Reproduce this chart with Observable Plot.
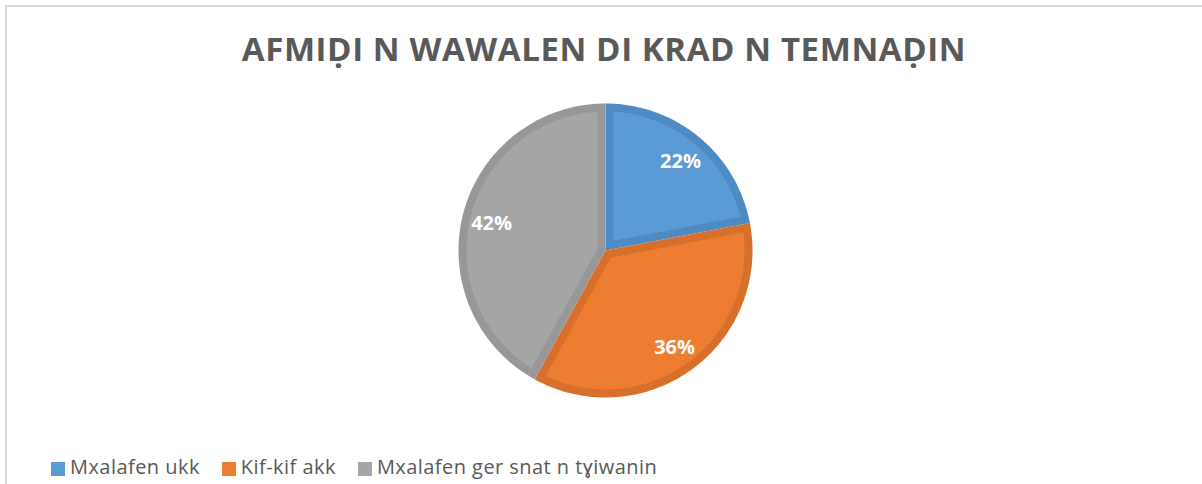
<!DOCTYPE html>
<html>
<head>
<meta charset="utf-8">
<script src="https://cdn.jsdelivr.net/npm/d3@7"></script>
<script src="https://cdn.jsdelivr.net/npm/@observablehq/plot@0.6"></script>
<style>
  html, body { margin: 0; padding: 0; background: #fff; }
  #wrap { position: relative; width: 1202px; height: 484px; overflow: hidden; background: #fff; }
  #frame { position: absolute; left: 5px; top: 5px; width: 1200px; height: 482px;
           border-top: 2px solid #d9d9d9; border-left: 2px solid #d9d9d9; box-sizing: border-box; }
  #title { position: absolute; left: 0; top: 26px; width: 1208px; text-align: center;
           font-family: "Open Sans", sans-serif; font-weight: 700; font-size: 33px;
           color: #595959; letter-spacing: 0.6px; white-space: nowrap; }
  #plot { position: absolute; left: 0; top: 0; }
  #legend { position: absolute; left: 51px; top: 453px; display: flex; align-items: flex-start;
            font-family: "Open Sans", sans-serif; line-height: 27px;
            font-size: 20px; letter-spacing: 0.45px; color: #595959; white-space: nowrap; }
  .item { display: flex; align-items: flex-start; margin-right: 22px; }
  .sw { width: 14px; height: 14px; margin-right: 5px; margin-top: 9px; }
</style>
</head>
<body>
<div id="wrap">
  <div id="frame"></div>
  <div id="title"></div>
  <div id="plot"></div>
  <div id="legend"></div>
</div>
<script>
const title = "AFMIḌI N WAWALEN DI KRAD N TEMNAḌIN";
const categories = ["Mxalafen ukk", "Kif-kif akk", "Mxalafen ger snat n tɣiwanin"];
const values = [22, 36, 42];
const fillColors = ["#5b9bd5", "#ed7d31", "#a5a5a5"];
const edgeColors = ["#4f8bc3", "#d8702b", "#979797"];

document.getElementById("title").textContent = title;

// pie geometry in data units (radius 1)
const R = 147;              // pixel radius used for the scale ranges
const band = 8 / R;         // border band width in data units
const arcs = d3.pie().sort(null).value(d => d)(values);
const outerPts = [], innerPts = [], labels = [];
arcs.forEach((a, i) => {
  const key = categories[i];
  const a0 = a.startAngle, a1 = a.endAngle, span = a1 - a0;
  const steps = 120;
  outerPts.push({key, x: 0, y: 0});
  for (let k = 0; k <= steps; k++) {
    const t = a0 + span * k / steps;
    outerPts.push({key, x: Math.sin(t), y: Math.cos(t)});
  }
  outerPts.push({key, x: 0, y: 0});
  // inset polygon
  const mid = (a0 + a1) / 2;
  const apex = band / Math.sin(span / 2);
  const ri = 1 - band;
  const delta = Math.asin(band / ri);
  innerPts.push({key, x: apex * Math.sin(mid), y: apex * Math.cos(mid)});
  for (let k = 0; k <= steps; k++) {
    const t = a0 + delta + (span - 2 * delta) * k / steps;
    innerPts.push({key, x: ri * Math.sin(t), y: ri * Math.cos(t)});
  }
  innerPts.push({key, x: apex * Math.sin(mid), y: apex * Math.cos(mid)});
  labels.push({key, x: 0.8 * Math.sin(mid), y: 0.8 * Math.cos(mid), text: values[i] + "%"});
});

const cx = 605, cy = 250;
const marks = [];
categories.forEach((c, i) => {
  marks.push(Plot.line(outerPts.filter(d => d.key === c), {x: "x", y: "y", fill: edgeColors[i], stroke: "none", curve: "linear"}));
  marks.push(Plot.line(innerPts.filter(d => d.key === c), {x: "x", y: "y", fill: fillColors[i], stroke: "none", curve: "linear"}));
});
marks.push(Plot.text(labels, {x: "x", y: "y", text: "text", fill: "white", fontSize: 20, fontWeight: "bold",
  fontFamily: "Open Sans, sans-serif", dy: 2}));

const chart = Plot.plot({
  width: 1202,
  height: 484,
  margin: 0,
  style: {background: "transparent", overflow: "visible"},
  x: {domain: [-1, 1], range: [cx - R, cx + R], axis: null},
  y: {domain: [-1, 1], range: [cy + R, cy - R], axis: null},
  marks
});
document.getElementById("plot").appendChild(chart);

const legend = document.getElementById("legend");
categories.forEach((c, i) => {
  const it = document.createElement("div");
  it.className = "item";
  const sw = document.createElement("div");
  sw.className = "sw";
  sw.style.background = fillColors[i];
  const tx = document.createElement("span");
  tx.textContent = c;
  it.appendChild(sw); it.appendChild(tx);
  legend.appendChild(it);
});
</script>
</body>
</html>
